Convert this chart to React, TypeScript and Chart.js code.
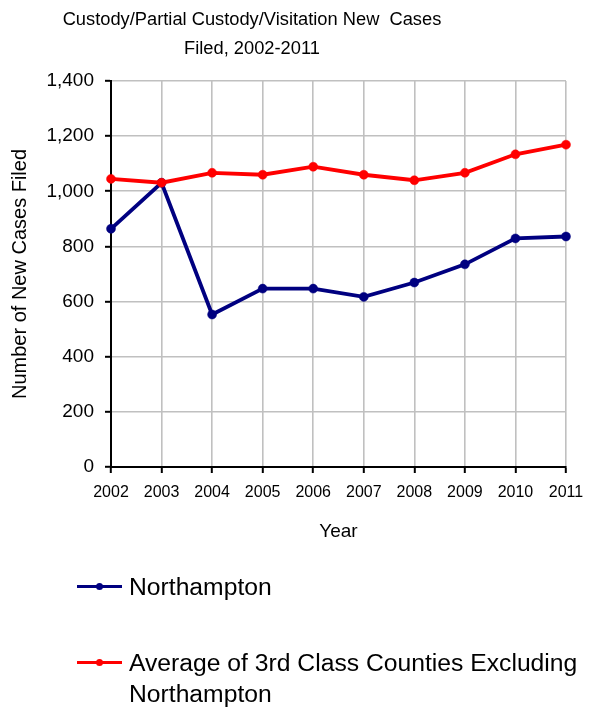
import React, { useEffect, useRef } from "react";
import { Chart, registerables } from "chart.js";

Chart.register(...registerables);

const titleLines = ["Custody/Partial Custody/Visitation New  Cases", "Filed, 2002-2011"];
const years = ["2002", "2003", "2004", "2005", "2006", "2007", "2008", "2009", "2010", "2011"];
const northampton = [864, 1031, 553, 647, 647, 617, 669, 735, 829, 836];
const average3rdClass = [1045, 1031, 1067, 1060, 1089, 1060, 1040, 1067, 1134, 1169];
const seriesLabels = ["Northampton", "Average of 3rd Class Counties Excluding Northampton"];
const seriesColors = ["#000080", "#ff0000"];
const yAxisTitle = "Number of New Cases Filed";
const xAxisTitle = "Year";
const yMin = 0;
const yMax = 1400;
const yStep = 200;

const FONT = "'Liberation Sans', Arial, Helvetica, sans-serif";
const W = 604;
const H = 708;
const legendCenters = [586, 662];

export default function App() {
  const canvasRef = useRef<HTMLCanvasElement | null>(null);

  useEffect(() => {
    const canvas = canvasRef.current;
    if (!canvas) return;
    const seriesData = [northampton, average3rdClass];
    const chart = new Chart(canvas, {
      type: "line",
      data: {
        labels: years,
        datasets: seriesData.map((d, i) => ({
          label: seriesLabels[i],
          data: d,
          borderColor: seriesColors[i],
          backgroundColor: seriesColors[i],
          pointBackgroundColor: seriesColors[i],
          pointBorderColor: seriesColors[i],
          borderWidth: 3.8,
          pointRadius: 4.5,
          pointBorderWidth: 0.5,
          pointStyle: "circle",
          tension: 0,
          fill: false,
          order: seriesData.length - i,
        })),
      },
      options: {
        responsive: false,
        animation: false,
        events: [],
        layout: { padding: { left: 0, right: 38, top: 81, bottom: 161 } },
        plugins: {
          legend: { display: false },
          title: { display: false },
          tooltip: { enabled: false },
        },
        scales: {
          x: {
            type: "category",
            offset: false,
            grid: {
              color: "#c0c0c0",
              lineWidth: 1.6,
              tickColor: "#000000",
              tickLength: 6,
              tickWidth: 2,
            },
            border: { color: "#000000", width: 2 },
            ticks: {
              color: "#000000",
              font: { family: FONT, size: 16 },
              padding: 10,
              maxRotation: 0,
              autoSkip: false,
            },
            title: {
              display: true,
              text: xAxisTitle,
              color: "#000000",
              font: { family: FONT, size: 19 },
              padding: { top: 0, bottom: 4 },
            },
            afterFit: (s: any) => {
              s.height = 80;
            },
          },
          y: {
            min: yMin,
            max: yMax,
            grid: {
              color: "#c0c0c0",
              lineWidth: 1.6,
              tickColor: "#000000",
              tickLength: 6,
              tickWidth: 2,
            },
            border: { color: "#000000", width: 2 },
            ticks: {
              stepSize: yStep,
              color: "#000000",
              font: { family: FONT, size: 19 },
              padding: 11,
            },
            title: {
              display: true,
              text: yAxisTitle,
              color: "#000000",
              font: { family: FONT, size: 20 },
              padding: { top: 8, bottom: 0 },
            },
            afterFit: (s: any) => {
              s.width = 111;
            },
          },
        },
      } as any,
    });
    return () => chart.destroy();
  }, []);

  return (
    <div style={{ position: "absolute", left: 0, top: 0, width: W, height: H, background: "#fff" }}>
      <canvas ref={canvasRef} width={W} height={H} style={{ display: "block", width: W, height: H }} />
      <div
        style={{
          position: "absolute",
          left: 0,
          top: 3.5,
          width: 504,
          textAlign: "center",
          fontFamily: FONT,
          fontSize: 18.3,
          lineHeight: "29px",
          color: "#000",
          whiteSpace: "pre",
        }}
      >
        {titleLines.map((t, i) => (
          <div key={i}>{t}</div>
        ))}
      </div>
      {seriesLabels.map((lab, i) => (
        <React.Fragment key={i}>
          <div
            style={{
              position: "absolute",
              left: 77,
              top: legendCenters[i] - 1.5,
              width: 45,
              height: 3,
              background: seriesColors[i],
            }}
          />
          <div
            style={{
              position: "absolute",
              left: 99 - 3.5,
              top: legendCenters[i] - 3.5,
              width: 7,
              height: 7,
              borderRadius: "50%",
              background: seriesColors[i],
            }}
          />
          <div
            style={{
              position: "absolute",
              left: 129,
              top: legendCenters[i] - 15.5,
              width: 470,
              fontFamily: FONT,
              fontSize: 24.7,
              lineHeight: "31px",
              color: "#000",
            }}
          >
            {lab}
          </div>
        </React.Fragment>
      ))}
    </div>
  );
}
